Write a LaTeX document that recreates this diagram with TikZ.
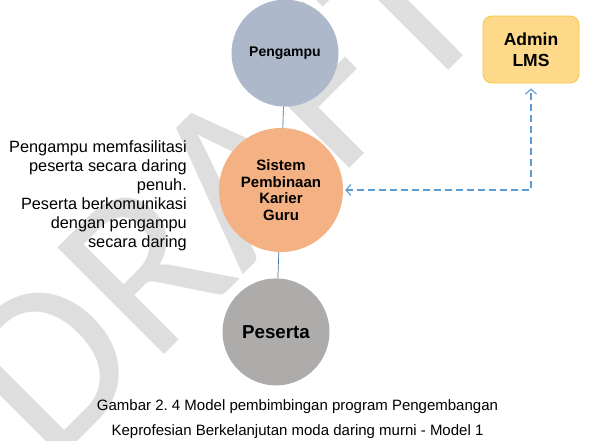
\documentclass[tikz,border=0pt]{standalone}
\usepackage{fontspec}
\setmainfont{Liberation Sans}
\newfontfamily\wmfont{Carlito}
\usetikzlibrary{positioning,arrows.meta,calc}
\definecolor{ampu}{HTML}{ADB9CA}
\definecolor{sistem}{HTML}{F4B183}
\definecolor{serta}{HTML}{AEABAB}
\definecolor{admfill}{HTML}{FFD98A}
\definecolor{admline}{HTML}{F4C542}
\definecolor{tali}{HTML}{41719C}
\definecolor{putus}{HTML}{5B9BD5}

\begin{document}
\frenchspacing
\begin{tikzpicture}[x=1pt,y=-1pt,>={Straight Barb[length=5pt,width=11pt]},
  ling/.style={circle,inner sep=0pt,align=center},
  kotak/.style={rectangle,rounded corners=9pt,draw=admline,fill=admfill,line width=0.8pt,align=center,
    minimum width=96pt,minimum height=67pt,font=\bfseries\fontsize{17.5}{21}\selectfont},
  ket/.style={align=right,inner sep=0pt,font=\fontsize{16.3}{19}\selectfont},
  judul/.style={align=center,inner sep=0pt,font=\fontsize{15}{25}\selectfont},
  hub/.style={tali,line width=0.7pt},
  dsh/.style={putus,line width=1.1pt,dash pattern=on 7pt off 4pt}]
\useasboundingbox (0,0) rectangle (589,440);
% watermark
\node[text=black!13,rotate=45,inner sep=0pt,font=\wmfont\fontsize{235}{235}\selectfont](wm) at (220,192){DRAFT};
\node[ling,fill=sistem,minimum size=124pt,font=\bfseries\fontsize{15}{16.5}\selectfont](sis) at (281,190){Sistem\\Pembinaan\\Karier\\Guru};
\node[ling,fill=ampu,minimum size=107pt,font=\bfseries\fontsize{14}{16}\selectfont,above=21pt of sis,xshift=4pt](pg){Pengampu};
\node[ling,fill=serta,minimum size=107pt,font=\bfseries\fontsize{18.7}{21}\selectfont,below=26pt of sis,xshift=-5pt](ps){Peserta};
\node[kotak](lms) at (531,49.5){Admin\\LMS};
\node[ket,anchor=north east](ket) at (187,140){Pengampu memfasilitasi\\peserta secara daring\\penuh.\\Peserta berkomunikasi\\dengan pengampu\\secara daring};
\node[judul,anchor=north](jdl) at (297.5,399){Gambar 2. 4 Model pembimbingan program Pengembangan\\Keprofesian Berkelanjutan moda daring murni - Model 1};
\draw[hub](pg)--(sis);\draw[hub](sis)--(ps);
\draw[dsh,<->,shorten <=2pt,shorten >=5pt](sis.east)-|(lms.south);
\end{tikzpicture}
\end{document}
